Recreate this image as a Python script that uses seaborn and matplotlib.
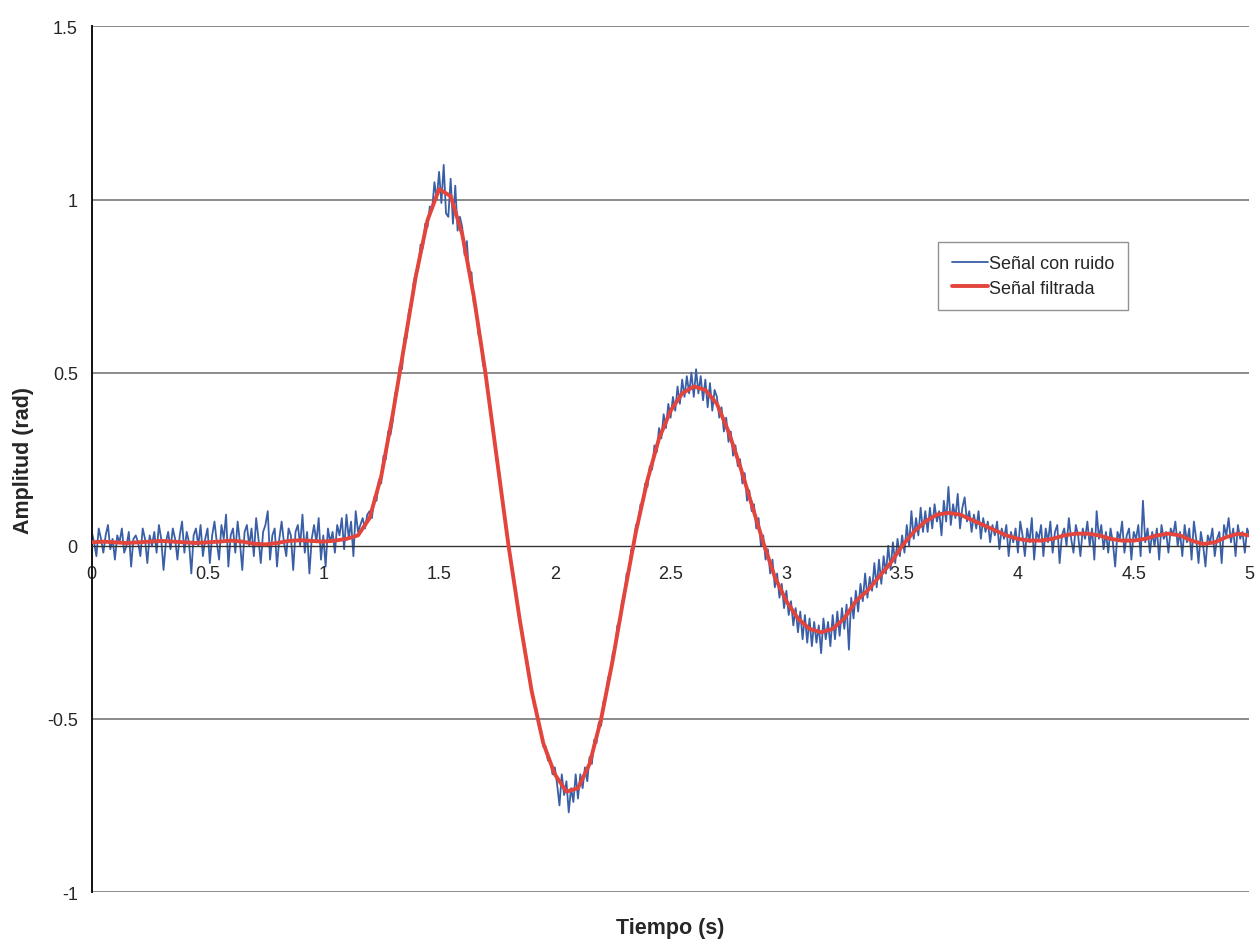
import numpy as np
import pandas as pd
import matplotlib
matplotlib.use("Agg")
import matplotlib.pyplot as plt
import seaborn as sns

# Señal filtrada, muestreada cada 0.05 s
t_filt = np.round(np.arange(0, 5.001, 0.05), 2)
y_filt = [
    0.01, 0.012, 0.01, 0.008, 0.01, 0.012, 0.014, 0.012, 0.01, 0.008,
    0.01, 0.012, 0.015, 0.012, 0.006, 0.004, 0.008, 0.014, 0.016, 0.014,
    0.012, 0.015, 0.02, 0.03, 0.08, 0.2, 0.38, 0.58, 0.78, 0.94,
    1.03, 1.01, 0.9, 0.72, 0.5, 0.25, 0.0, -0.22, -0.42, -0.57,
    -0.66, -0.71, -0.70, -0.63, -0.50, -0.33, -0.14, 0.04, 0.19, 0.31,
    0.39, 0.44, 0.46, 0.45, 0.41, 0.33, 0.23, 0.12, 0.01, -0.09,
    -0.16, -0.21, -0.24, -0.25, -0.24, -0.21, -0.16, -0.13, -0.09, -0.05,
    0.0, 0.04, 0.07, 0.09, 0.095, 0.09, 0.075, 0.06, 0.045, 0.03,
    0.02, 0.015, 0.015, 0.02, 0.03, 0.035, 0.035, 0.03, 0.02, 0.015,
    0.015, 0.02, 0.03, 0.035, 0.03, 0.015, 0.005, 0.01, 0.025, 0.035,
    0.03,
]

# Señal con ruido, muestreada cada 0.01 s
t_noisy = np.round(np.arange(0, 5.001, 0.01), 2)
y_noisy = [
    0.04, 0.01, -0.03, 0.05, 0.02, -0.02, 0.03, 0.06, -0.01, 0.02,
    -0.04, 0.03, 0.01, 0.05, -0.02, 0.00, 0.04, -0.06, 0.02, 0.03,
    0.01, -0.03, 0.05, 0.02, -0.05, 0.03, 0.00, 0.04, -0.02, 0.06,
    0.02, -0.07, 0.01, 0.04, -0.01, 0.05, 0.02, -0.04, 0.03, 0.07,
    -0.02, 0.04, 0.01, -0.08, 0.03, 0.05, 0.00, 0.06, -0.03, 0.02,
    0.05, -0.05, 0.03, 0.07, 0.01, -0.04, 0.06, 0.02, 0.09, -0.06,
    0.03, 0.05, -0.02, 0.07, 0.01, -0.07, 0.04, 0.06, 0.00, 0.05,
    -0.03, 0.08, 0.02, -0.05, 0.04, 0.06, 0.10, -0.04, 0.03, 0.05,
    -0.06, 0.02, 0.07, 0.01, -0.03, 0.05, 0.03, -0.07, 0.04, 0.06,
    0.00, 0.09, -0.02, 0.04, -0.08, 0.02, 0.06, 0.01, 0.08, -0.04,
    0.03, -0.06, 0.05, 0.01, 0.04, -0.02, 0.06, 0.03, 0.08, -0.01,
    0.09, 0.02, 0.07, -0.03, 0.10, 0.04, 0.06, 0.08, 0.05, 0.09,
    0.10, 0.08, 0.14, 0.13, 0.19, 0.18, 0.26, 0.25, 0.33, 0.32,
    0.36, 0.44, 0.45, 0.52, 0.51, 0.60, 0.60, 0.68, 0.69, 0.76,
    0.79, 0.80, 0.87, 0.86, 0.93, 0.92, 0.98, 0.97, 1.05, 1.00,
    1.08, 0.99, 1.10, 0.96, 0.95, 1.06, 0.93, 1.04, 0.91, 0.95,
    0.92, 0.84, 0.88, 0.78, 0.79, 0.70, 0.69, 0.61, 0.60, 0.52,
    0.51, 0.44, 0.41, 0.34, 0.31, 0.24, 0.21, 0.14, 0.11, 0.04,
    0.01, -0.05, -0.08, -0.14, -0.17, -0.23, -0.25, -0.31, -0.33, -0.39,
    -0.41, -0.46, -0.47, -0.52, -0.53, -0.58, -0.58, -0.62, -0.62, -0.66,
    -0.64, -0.69, -0.75, -0.66, -0.72, -0.68, -0.77, -0.70, -0.74, -0.66,
    -0.73, -0.66, -0.70, -0.64, -0.68, -0.61, -0.63, -0.56, -0.57, -0.51,
    -0.52, -0.45, -0.44, -0.38, -0.37, -0.31, -0.30, -0.23, -0.22, -0.16,
    -0.15, -0.08, -0.08, -0.01, -0.01, 0.06, 0.06, 0.12, 0.12, 0.18,
    0.17, 0.23, 0.22, 0.29, 0.27, 0.34, 0.31, 0.38, 0.34, 0.41,
    0.37, 0.43, 0.39, 0.46, 0.41, 0.48, 0.43, 0.49, 0.44, 0.50,
    0.43, 0.51, 0.44, 0.49, 0.42, 0.48, 0.40, 0.47, 0.39, 0.45,
    0.43, 0.37, 0.40, 0.33, 0.37, 0.30, 0.33, 0.26, 0.29, 0.23,
    0.25, 0.18, 0.21, 0.13, 0.16, 0.10, 0.12, 0.05, 0.08, 0.00,
    0.03, -0.04, -0.01, -0.08, -0.04, -0.12, -0.08, -0.15, -0.11, -0.18,
    -0.13, -0.20, -0.16, -0.23, -0.18, -0.25, -0.19, -0.27, -0.20, -0.28,
    -0.21, -0.29, -0.22, -0.28, -0.23, -0.31, -0.21, -0.27, -0.22, -0.29,
    -0.20, -0.27, -0.19, -0.26, -0.18, -0.24, -0.17, -0.30, -0.15, -0.21,
    -0.13, -0.19, -0.11, -0.16, -0.08, -0.15, -0.09, -0.13, -0.05, -0.12,
    -0.04, -0.11, -0.03, -0.08, 0.00, -0.07, 0.01, -0.05, 0.02, -0.03,
    0.03, -0.02, 0.06, 0.00, 0.10, 0.02, 0.08, 0.03, 0.11, 0.04,
    0.10, 0.04, 0.11, 0.05, 0.12, 0.07, 0.10, 0.03, 0.13, 0.07,
    0.17, 0.06, 0.12, 0.08, 0.15, 0.05, 0.11, 0.14, 0.07, 0.10,
    0.04, 0.09, 0.05, 0.10, 0.02, 0.08, 0.04, 0.07, 0.01, 0.06,
    0.03, 0.07, -0.01, 0.05, 0.02, 0.06, -0.03, 0.04, 0.01, 0.05,
    -0.02, 0.07, 0.03, -0.03, 0.05, 0.01, 0.08, -0.04, 0.04, 0.02,
    0.06, -0.03, 0.05, 0.01, 0.07, -0.02, 0.04, 0.06, -0.05, 0.03,
    0.05, 0.00, 0.08, 0.02, -0.02, 0.06, 0.03, -0.03, 0.05, 0.02,
    0.07, 0.00, 0.05, -0.04, 0.10, 0.02, 0.06, -0.01, 0.04, -0.02,
    0.05, 0.01, -0.06, 0.04, 0.02, 0.07, -0.02, 0.03, 0.05, -0.04,
    0.04, 0.02, 0.06, -0.03, 0.13, 0.01, 0.05, -0.02, 0.04, 0.00,
    0.05, -0.04, 0.06, 0.02, 0.04, -0.02, 0.05, 0.03, 0.07, 0.00,
    0.04, -0.03, 0.06, 0.01, 0.05, -0.04, 0.07, 0.02, -0.05, 0.04,
    0.00, -0.06, 0.03, 0.01, 0.05, -0.03, 0.02, 0.04, -0.05, 0.06,
    0.03, 0.08, 0.01, 0.05, -0.03, 0.06, 0.02, 0.04, -0.02, 0.05,
    0.03,
]

x_ticks = [0, 0.5, 1, 1.5, 2, 2.5, 3, 3.5, 4, 4.5, 5]
x_labels = ['0', '0.5', '1', '1.5', '2', '2.5', '3', '3.5', '4', '4.5', '5']
y_ticks = [-1, -0.5, 0, 0.5, 1, 1.5]
y_labels = ['-1', '-0.5', '0', '0.5', '1', '1.5']

noisy_df = pd.DataFrame({'t': t_noisy, 'y': y_noisy})
filt_df = pd.DataFrame({'t': t_filt, 'y': y_filt})

sns.set_style("white")
plt.rcParams['font.family'] = ['Liberation Sans', 'DejaVu Sans']

fig, ax = plt.subplots(figsize=(12.57, 9.45), dpi=100)
fig.subplots_adjust(left=0.073, right=0.994, top=0.971, bottom=0.055)

for yv in y_ticks:
    if yv != 0:
        ax.axhline(yv, color='#8a8a8a', lw=1.4, zorder=0)

sns.lineplot(data=noisy_df, x='t', y='y', ax=ax, color='#3a5fa6', lw=1.3,
             label='Señal con ruido', zorder=2)
sns.lineplot(data=filt_df, x='t', y='y', ax=ax, color='#e3453c', lw=2.8,
             label='Señal filtrada', zorder=3)

# the bottom axis sits on y = 0, like the spreadsheet chart
ax.spines['top'].set_visible(False)
ax.spines['right'].set_visible(False)
ax.spines['bottom'].set_position(('data', 0))
ax.spines['bottom'].set_color('#333333')
ax.spines['bottom'].set_linewidth(1.0)
ax.spines['left'].set_color('#111111')
ax.spines['left'].set_linewidth(1.4)

ax.set_xlim(0, 5)
ax.set_ylim(-1, 1.5)
ax.set_xticks(x_ticks)
ax.set_xticklabels(x_labels)
ax.set_yticks(y_ticks)
ax.set_yticklabels(y_labels)
ax.tick_params(axis='both', direction='out', length=4, width=1,
               color='#333333', labelsize=13)
ax.tick_params(axis='y', pad=6)
ax.tick_params(axis='x', pad=11, length=3)

ax.set_xlabel('Tiempo (s)', fontsize=15.5, fontweight='bold')
ax.set_ylabel('Amplitud (rad)', fontsize=15.5, fontweight='bold')
ax.xaxis.set_label_coords(0.5, -0.029)
ax.yaxis.set_label_coords(-0.05, 0.5)

leg = ax.legend(loc='upper left', bbox_to_anchor=(0.731, 0.751), fontsize=13,
                frameon=True, fancybox=False, edgecolor='#777777',
                handlelength=2.0, handletextpad=0.1, borderpad=0.75,
                labelspacing=0.4, borderaxespad=0)
leg.get_frame().set_linewidth(1.0)

fig.savefig('out.png', dpi=100, facecolor='white')
